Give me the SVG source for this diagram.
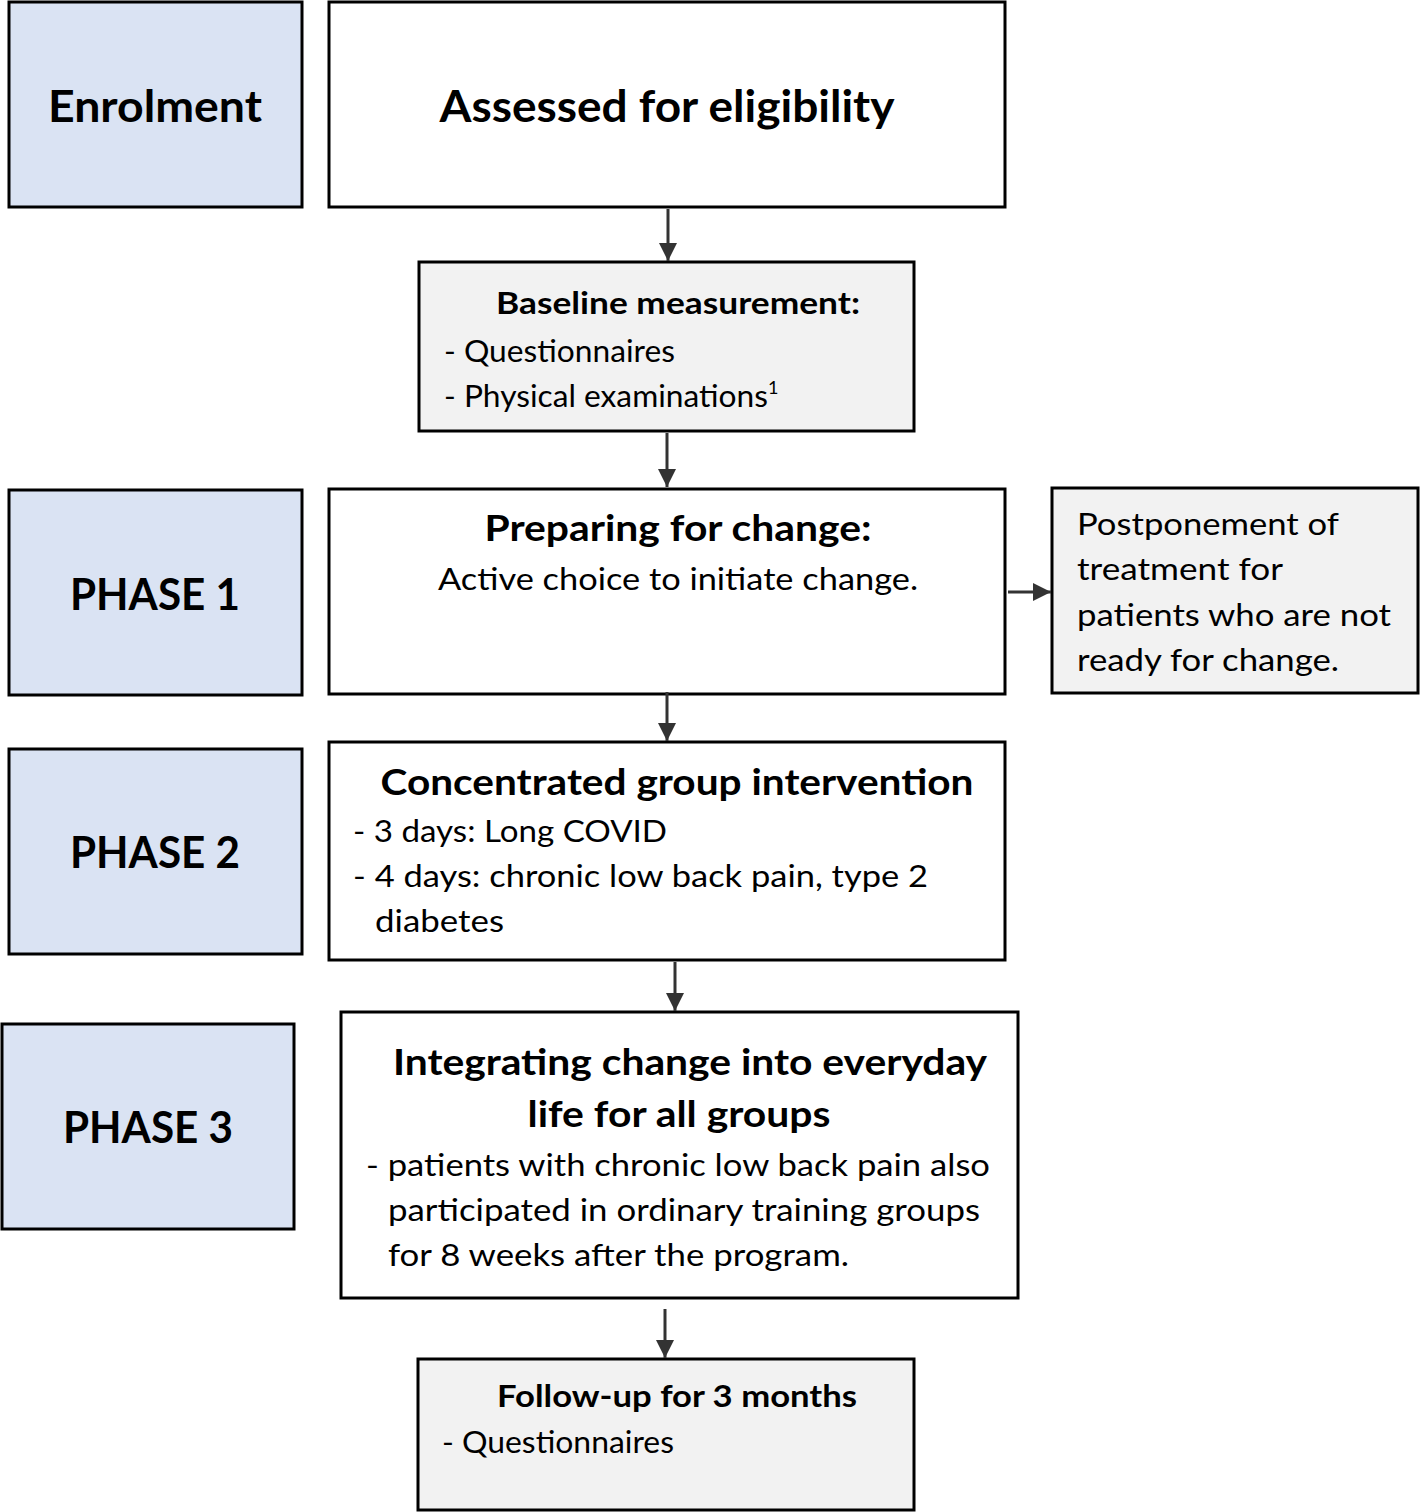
<svg xmlns="http://www.w3.org/2000/svg" width="1420" height="1512" viewBox="0 0 1420 1512">
<style>
.stage{fill:#dae3f3;stroke:#000;stroke-width:3}
.box{fill:#fff;stroke:#000;stroke-width:3}
.gbox{fill:#f2f2f2;stroke:#000;stroke-width:3}
text{font-family:Lato,"Open Sans","Liberation Sans",sans-serif;fill:#000}
.big{font-size:44px;font-weight:bold}
.sub{font-size:36px;font-weight:bold}
.sm{font-size:30px;font-weight:bold}
.body{font-size:30px}
.c{stroke:#333;stroke-width:3;fill:none}
</style>
<defs>
<marker id="ah" viewBox="0 0 10 10" refX="10" refY="5" markerWidth="6" markerHeight="6" markerUnits="strokeWidth" orient="auto">
<path d="M0,0 L10,5 L0,10 z" fill="#333"/>
</marker>
</defs>
<rect width="1420" height="1512" fill="#fff"/>

<g id="enrolment">
<rect class="stage" x="9" y="2" width="293" height="205"/>
<text class="big" x="155" y="122" text-anchor="middle" textLength="214" lengthAdjust="spacingAndGlyphs">Enrolment</text>
</g>
<g id="assessed">
<rect class="box" x="329" y="2" width="676" height="205"/>
<text class="big" x="667" y="122" text-anchor="middle" textLength="455" lengthAdjust="spacingAndGlyphs">Assessed for eligibility</text>
</g>
<g id="baseline">
<rect class="gbox" x="419" y="262" width="495" height="169"/>
<text class="sm" x="678" y="314" text-anchor="middle" textLength="364" lengthAdjust="spacingAndGlyphs">Baseline measurement:</text>
<text class="body" x="444" y="362" textLength="231" lengthAdjust="spacingAndGlyphs">- Questionnaires</text>
<text class="body" x="444" y="407"><tspan textLength="324" lengthAdjust="spacingAndGlyphs">- Physical examinations</tspan><tspan font-size="18" dy="-13">1</tspan></text>
</g>
<g id="phase1">
<rect class="stage" x="9" y="490" width="293" height="205"/>
<text class="big" x="155" y="610" text-anchor="middle" textLength="170" lengthAdjust="spacingAndGlyphs">PHASE 1</text>
</g>
<g id="preparing">
<rect class="box" x="329" y="489" width="676" height="205"/>
<text class="sub" x="678" y="541" text-anchor="middle" textLength="387" lengthAdjust="spacingAndGlyphs">Preparing for change:</text>
<text class="body" x="678" y="590" text-anchor="middle" textLength="480" lengthAdjust="spacingAndGlyphs">Active choice to initiate change.</text>
</g>
<g id="postponement">
<rect class="gbox" x="1052" y="488" width="366" height="205"/>
<text class="body" x="1077" y="535" textLength="262" lengthAdjust="spacingAndGlyphs">Postponement of</text>
<text class="body" x="1077" y="580" textLength="206" lengthAdjust="spacingAndGlyphs">treatment for</text>
<text class="body" x="1077" y="626" textLength="314" lengthAdjust="spacingAndGlyphs">patients who are not</text>
<text class="body" x="1077" y="671" textLength="262" lengthAdjust="spacingAndGlyphs">ready for change.</text>
</g>
<g id="phase2">
<rect class="stage" x="9" y="749" width="293" height="205"/>
<text class="big" x="155" y="868" text-anchor="middle" textLength="170" lengthAdjust="spacingAndGlyphs">PHASE 2</text>
</g>
<g id="concentrated">
<rect class="box" x="329" y="742" width="676" height="218"/>
<text class="sub" x="677" y="795" text-anchor="middle" textLength="593" lengthAdjust="spacingAndGlyphs">Concentrated group intervention</text>
<text class="body" x="353" y="842" textLength="314" lengthAdjust="spacingAndGlyphs">- 3 days: Long COVID</text>
<text class="body" x="353" y="887" textLength="575" lengthAdjust="spacingAndGlyphs">- 4 days: chronic low back pain, type 2</text>
<text class="body" x="375" y="932" textLength="129" lengthAdjust="spacingAndGlyphs">diabetes</text>
</g>
<g id="phase3">
<rect class="stage" x="2" y="1024" width="292" height="205"/>
<text class="big" x="148" y="1143" text-anchor="middle" textLength="170" lengthAdjust="spacingAndGlyphs">PHASE 3</text>
</g>
<g id="integrating">
<rect class="box" x="341" y="1012" width="677" height="286"/>
<text class="sub" x="690" y="1075" text-anchor="middle" textLength="594" lengthAdjust="spacingAndGlyphs">Integrating change into everyday</text>
<text class="sub" x="679" y="1127" text-anchor="middle" textLength="303" lengthAdjust="spacingAndGlyphs">life for all groups</text>
<text class="body" x="366" y="1176" textLength="624" lengthAdjust="spacingAndGlyphs">- patients with chronic low back pain also</text>
<text class="body" x="388" y="1221" textLength="592" lengthAdjust="spacingAndGlyphs">participated in ordinary training groups</text>
<text class="body" x="388" y="1266" textLength="461" lengthAdjust="spacingAndGlyphs">for 8 weeks after the program.</text>
</g>
<g id="followup">
<rect class="gbox" x="418" y="1359" width="496" height="151"/>
<text class="sm" x="677" y="1407" text-anchor="middle" textLength="360" lengthAdjust="spacingAndGlyphs">Follow-up for 3 months</text>
<text class="body" x="442" y="1453" textLength="232" lengthAdjust="spacingAndGlyphs">- Questionnaires</text>
</g>

<g id="connectors">
<line class="c" x1="668" y1="209" x2="668" y2="261" marker-end="url(#ah)"/>
<line class="c" x1="667" y1="433" x2="667" y2="487" marker-end="url(#ah)"/>
<line class="c" x1="1008" y1="592" x2="1051" y2="592" marker-end="url(#ah)"/>
<line class="c" x1="667" y1="692" x2="667" y2="741" marker-end="url(#ah)"/>
<line class="c" x1="675" y1="962" x2="675" y2="1011" marker-end="url(#ah)"/>
<line class="c" x1="665" y1="1309" x2="665" y2="1358" marker-end="url(#ah)"/>
</g>
</svg>
